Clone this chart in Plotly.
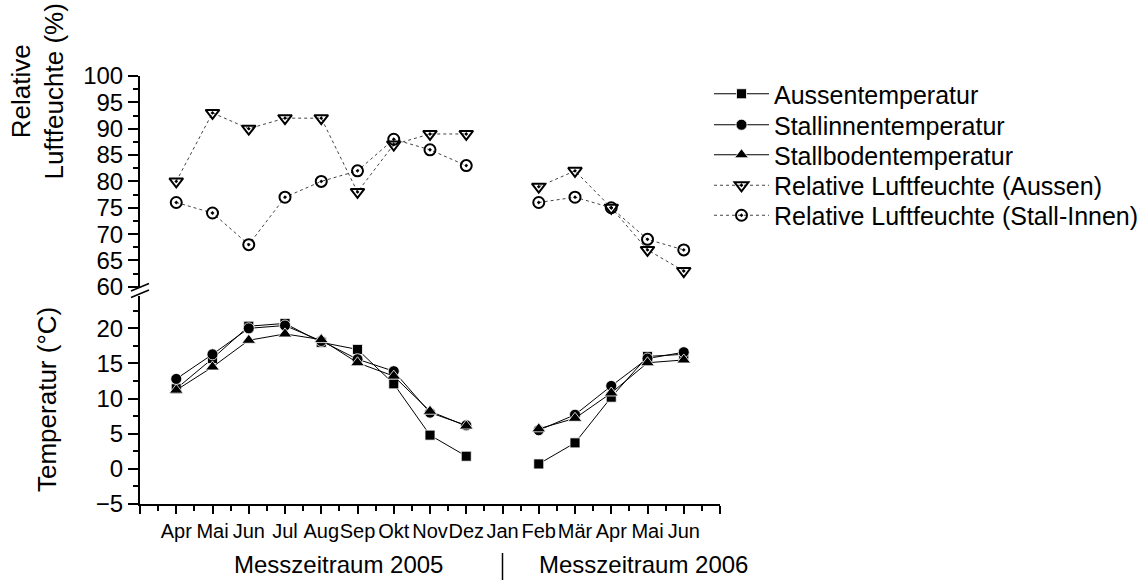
import plotly.graph_objects as go

# ---- data ----
months = ["", "Apr", "Mai", "Jun", "Jul", "Aug", "Sep", "Okt", "Nov", "Dez",
          "Jan", "Feb", "Mär", "Apr", "Mai", "Jun", ""]
xpos = list(range(1, 16))  # Apr 2005 ... Jun 2006

aussentemp = [11.4, 15.7, 20.3, 20.7, 18.0, 17.0, 12.1, 4.8, 1.8, None, 0.7, 3.7, 10.2, 16.0, 16.3]
stallinnen = [12.8, 16.3, 20.0, 20.4, 18.2, 15.6, 13.9, 8.0, 6.2, None, 5.5, 7.7, 11.8, 15.7, 16.6]
stallboden = [11.2, 14.5, 18.3, 19.2, 18.4, 15.1, 13.2, 8.2, 6.1, None, 5.7, 7.2, 10.8, 15.1, 15.5]
rf_aussen = [80, 93, 90, 92, 92, 78, 87, 89, 89, None, 79, 82, 75, 67, 63]
rf_stall = [76, 74, 68, 77, 80, 82, 88, 86, 83, None, 76, 77, 75, 69, 67]

FONT = "Arial, Liberation Sans, sans-serif"

# ---- pixel helpers for layout (plot area 140..720 x, 76..504 y) ----
L, R, T, B = 140, 720, 76, 504
def px(x):
    return (x - L) / (R - L)
def py(y):
    return (B - y) / (B - T)

fig = go.Figure()

fig.add_trace(go.Scatter(x=xpos, y=aussentemp, name="Aussentemperatur", mode="lines+markers",
                         line=dict(color="black", width=1),
                         marker=dict(symbol="square", size=10, color="black", line=dict(color="white", width=0.8)),
                         yaxis="y", legend="legend"))
fig.add_trace(go.Scatter(x=xpos, y=stallinnen, name="Stallinnentemperatur", mode="lines+markers",
                         line=dict(color="black", width=1),
                         marker=dict(symbol="circle", size=11, color="black", line=dict(color="white", width=0.8)),
                         yaxis="y", legend="legend2"))
fig.add_trace(go.Scatter(x=xpos, y=stallboden, name="Stallbodentemperatur", mode="lines+markers",
                         line=dict(color="black", width=1),
                         marker=dict(symbol="triangle-up", size=12, color="black", line=dict(color="white", width=0.8)),
                         yaxis="y", legend="legend3"))
fig.add_trace(go.Scatter(x=xpos, y=rf_aussen, name="Relative Luftfeuchte (Aussen)", mode="lines+markers",
                         line=dict(color="#444444", width=1, dash="dot"),
                         marker=dict(symbol="triangle-down-open-dot", size=12, color="black", line=dict(color="black", width=2)),
                         yaxis="y2", legend="legend4"))
fig.add_trace(go.Scatter(x=xpos, y=rf_stall, name="Relative Luftfeuchte (Stall-Innen)", mode="lines+markers",
                         line=dict(color="#444444", width=1, dash="dot"),
                         marker=dict(symbol="circle-open-dot", size=11, color="black", line=dict(color="black", width=2)),
                         yaxis="y2", legend="legend5"))

axis_common = dict(showgrid=False, zeroline=False, showline=True, linecolor="black", linewidth=2,
                   ticks="outside", tickcolor="black", tickwidth=1.5, ticklen=10,
                   tickfont=dict(family=FONT, size=24, color="black"))

def leg(yc):
    return dict(x=px(709), y=py(yc), xanchor="left", yanchor="middle",
                font=dict(family=FONT, size=25, color="black"),
                itemwidth=55, bgcolor="rgba(0,0,0,0)", borderwidth=0)

fig.update_layout(
    width=1148, height=580, autosize=False,
    margin=dict(l=L, r=1148 - R, t=T, b=580 - B, pad=0, autoexpand=False),
    paper_bgcolor="white", plot_bgcolor="white",
    font=dict(family=FONT, color="black"),
    xaxis=dict(range=[0, 16], showgrid=False, zeroline=False, showline=True, linecolor="black", linewidth=2,
               ticks="outside", tickcolor="black", tickwidth=1.5, ticklen=8, tickangle=0,
               tickmode="array", tickvals=list(range(len(months))), ticktext=months,
               tickfont=dict(family=FONT, size=20, color="black"),
               minor=dict(ticks="outside", ticklen=5, tickwidth=1.5, tickcolor="black",
                          tickmode="linear", tick0=0.5, dtick=1)),
    yaxis=dict(domain=[0, py(296)], range=[-5, 24.6], tickmode="linear", tick0=-5, dtick=5,
               minor=dict(ticks="outside", ticklen=5, tickwidth=1.5, tickcolor="black", dtick=2.5, tick0=-5),
               **axis_common),
    yaxis2=dict(domain=[py(286.8), 1], range=[60, 100], tickmode="linear", tick0=60, dtick=5,
                anchor="x",
                minor=dict(ticks="outside", ticklen=5, tickwidth=1.5, tickcolor="black", dtick=2.5, tick0=60),
                **axis_common),
    showlegend=True,
    legend=leg(94), legend2=leg(125), legend3=leg(155), legend4=leg(185.5), legend5=leg(215.5),
)

# axis titles
fig.add_annotation(text="Relative<br>Luftfeuchte (%)", xref="paper", yref="paper",
                   x=px(37.5), y=py(92), textangle=-90, showarrow=False,
                   font=dict(family=FONT, size=26, color="black"), xanchor="center", yanchor="middle")
fig.add_annotation(text="Temperatur (°C)", xref="paper", yref="paper",
                   x=px(47), y=py(400), textangle=-90, showarrow=False,
                   font=dict(family=FONT, size=26, color="black"), xanchor="center", yanchor="middle")
fig.add_annotation(text="Messzeitraum 2005", xref="paper", yref="paper",
                   x=px(338), y=py(564), showarrow=False,
                   font=dict(family=FONT, size=24, color="black"), xanchor="center", yanchor="middle")
fig.add_annotation(text="Messzeitraum 2006", xref="paper", yref="paper",
                   x=px(643), y=py(564), showarrow=False,
                   font=dict(family=FONT, size=24, color="black"), xanchor="center", yanchor="middle")

# divider line between periods
fig.add_shape(type="line", xref="paper", yref="paper", x0=px(502.5), x1=px(502.5), y0=py(553), y1=py(580),
              line=dict(color="black", width=1.5))
# axis break marks
for y0 in (291, 297.5):
    fig.add_shape(type="line", xref="paper", yref="paper", x0=px(131), x1=px(149), y0=py(y0), y1=py(y0 - 7.5),
                  line=dict(color="black", width=1.5))

fig.write_html("out.html")
